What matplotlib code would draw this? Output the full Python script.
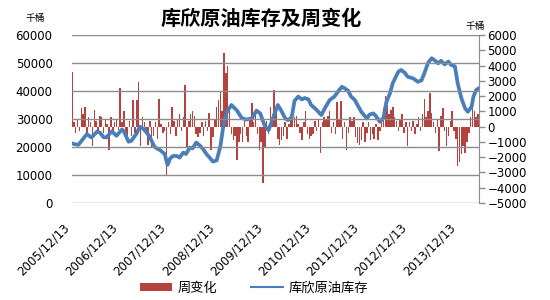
import numpy as np
import matplotlib
matplotlib.use("Agg")
import matplotlib.pyplot as plt
from matplotlib.patches import Patch
from matplotlib.lines import Line2D

plt.rcParams['font.family'] = ['DejaVu Sans', 'Noto Sans CJK SC']

# weekly change (thousand barrels), one value every 2 weeks starting 2005/12/13
chg_step = 2
weekly_change = [
    3600, 300, -400, 500, -300, 1200, 800, 1300, -500, 600, 300, -1300, 1100,
    400, -300, 700, 600, -400, 500, 200, -1500, 600, -300, 300, 500, -200,
    2500, 300, 1000, -500, -800, 400, -600, 1750, -400, 1750, 2900, -1300, 600,
    300, -500, -1200, 400, -1400, -600, 300, -800, 1800, 200, -400, -300, -3200,
    300, -500, 1300, 400, -600, 500, 800, -300, 600, 2750, -1400, 400, 800,
    1000, 700, -500, -700, -400, 300, -600, 400, -300, 900, -1500, -700, 500,
    1300, 1750, 2300, 1000, 4800, 3500, 4000, 1000, -500, -900, -600, -2200, -1000,
    -500, -1000, 400, -600, -1000, 500, 1550, 300, 800, -500, -1500, -1000, -3700,
    -1400, 400, -500, 1300, 800, 2400, 1000, -800, -1200, -900, -600, 300, -800,
    200, 500, 900, 600, 700, 200, -400, -900, 300, 1000, -500, -800, -600,
    -500, 400, -300, 500, -1750, 300, 600, 500, 700, 1000, -400, 300, -500,
    1600, 500, 1700, -800, 300, -1500, -400, 600, 400, 600, -700, -1100, -1200,
    -900, 300, -1000, -400, 300, -900, -500, -800, 200, -900, -300, 500, 1200,
    2000, 1400, 800, 1100, 1300, 600, 400, -300, 500, 800, -400, 300, -1300,
    300, -300, 400, -500, 200, 600, -300, 800, 1800, 600, 1000, 2200, 900,
    300, -400, 500, -1600, 700, 1200, -300, -1300, -600, 400, 1000, -300, -800,
    -2600, -2300, -1800, -1300, -1750, -1000, -400, 600, 2000, 1000, 600, 800,
]

# Cushing crude inventory (thousand barrels), week offset from 2005/12/13
inv_week = [
    0, 3, 7, 11, 16, 21, 27, 30, 34, 37, 43, 48, 54, 56, 61, 64, 70, 73, 77,
    81, 84, 89, 95, 100, 103, 106, 109, 113, 116, 120, 123, 127, 130, 134, 138,
    142, 145, 149, 152, 156, 160, 163, 167, 172, 178, 183, 188, 194, 199, 203,
    208, 212, 217, 222, 226, 230, 233, 237, 240, 244, 248, 251, 255, 258, 264,
    269, 273, 278, 283, 287, 291, 294, 298, 301, 305, 309, 312, 318, 321, 325,
    328, 332, 336, 339, 343, 346, 352, 355, 359, 362, 368, 373, 377, 380, 384,
    388, 391, 395, 398, 402, 406, 409, 413, 416, 420, 424, 427, 431, 433, 436, 439,
]
inventory = [
    21300, 21000, 20800, 22500, 24600, 23400, 25500, 25200, 23500, 23400, 25600,
    24000, 26300, 25500, 21900, 22200, 25000, 27300, 26500, 25000, 23500, 20000,
    18900, 17500, 13600, 16000, 16800, 16800, 16200, 18000, 17500, 19800, 19500,
    21600, 20500, 19000, 17500, 16000, 14800, 15200, 20100, 27000, 32500, 35000,
    33000, 30400, 29800, 30200, 33000, 32000, 27500, 26000, 30500, 35000, 32800,
    30200, 29600, 30600, 36500, 38000, 37000, 37500, 37000, 35000, 33200, 31400,
    34000, 36800, 38000, 39800, 41500, 41000, 40000, 38000, 36800, 34400, 32600,
    30200, 31600, 32000, 31000, 29000, 30500, 36000, 39200, 42800, 46900, 47500,
    46500, 45100, 44500, 43300, 43800, 46300, 50000, 51700, 51000, 49900, 50800,
    49500, 50500, 49300, 48800, 42800, 37400, 33800, 32600, 34400, 38000, 40400, 41000,
]

tick_week = [0, 52, 104, 156, 208, 260, 312, 364, 416]
tick_labels = ['2005/12/13', '2006/12/13', '2007/12/13', '2008/12/13', '2009/12/13',
               '2010/12/13', '2011/12/13', '2012/12/13', '2013/12/13']

bar_color = '#B5423F'
line_color = '#4A7EBB'
grid_color = '#8C8C8C'

fig = plt.figure(figsize=(5.5, 3.0), dpi=100)
ax = fig.add_axes([72/550, 1 - 203/300, (479-72)/550, (203-35)/300])
ax2 = ax.twinx()

chg_x = np.arange(len(weekly_change)) * chg_step
ax2.bar(chg_x, weekly_change, width=1.6, color=bar_color, linewidth=0)
ax.plot(inv_week, inventory, color=line_color, lw=2.7, solid_joinstyle='round')

ax.set_zorder(2)
ax.patch.set_visible(False)
ax2.set_zorder(1)

ax.set_xlim(0, 439)
ax.set_ylim(0, 60000)
ax.set_yticks(np.arange(0, 60001, 10000))
ax2.set_ylim(-5000, 6000)
ax2.set_yticks(np.arange(-5000, 6001, 1000))

ax.yaxis.grid(True, color=grid_color, lw=1)
ax.set_axisbelow(False)
ax.set_xticks(tick_week)
ax.set_xticklabels(tick_labels, rotation=45, ha='right')
ax.tick_params(axis='x', length=0, pad=13, labelsize=8.5)
ax.tick_params(axis='y', length=0, pad=14, labelsize=8.5)
ax2.tick_params(axis='y', length=4, width=1, color=grid_color, pad=2, labelsize=8.5)

for a in (ax, ax2):
    for side in ('top', 'bottom', 'left', 'right'):
        a.spines[side].set_visible(False)
ax2.spines['right'].set_visible(True)
ax2.spines['right'].set_color(grid_color)

fig.text(0.475, 0.94, '库欣原油库存及周变化', fontsize=14.5, fontweight='bold',
         family=['Noto Sans CJK SC'], ha='center', va='center')
fig.text(35/550, 1 - 18/300, '千桶', fontsize=7, family=['Noto Sans CJK SC'],
         ha='center', va='center')
fig.text(475/550, 1 - 26/300, '千桶', fontsize=7, family=['Noto Sans CJK SC'],
         ha='center', va='center')

handles = [Patch(facecolor=bar_color, edgecolor='none'),
           Line2D([], [], color=line_color, lw=1.5)]
fig.legend(handles, ['周变化', '库欣原油库存'], loc='center', ncol=2,
           bbox_to_anchor=(254/550, 1 - 288/300), frameon=False,
           prop={'family': ['Noto Sans CJK SC'], 'size': 9.5},
           handlelength=2.4, handleheight=0.6, columnspacing=2.6, handletextpad=0.4)

fig.savefig('out.png', dpi=100)
